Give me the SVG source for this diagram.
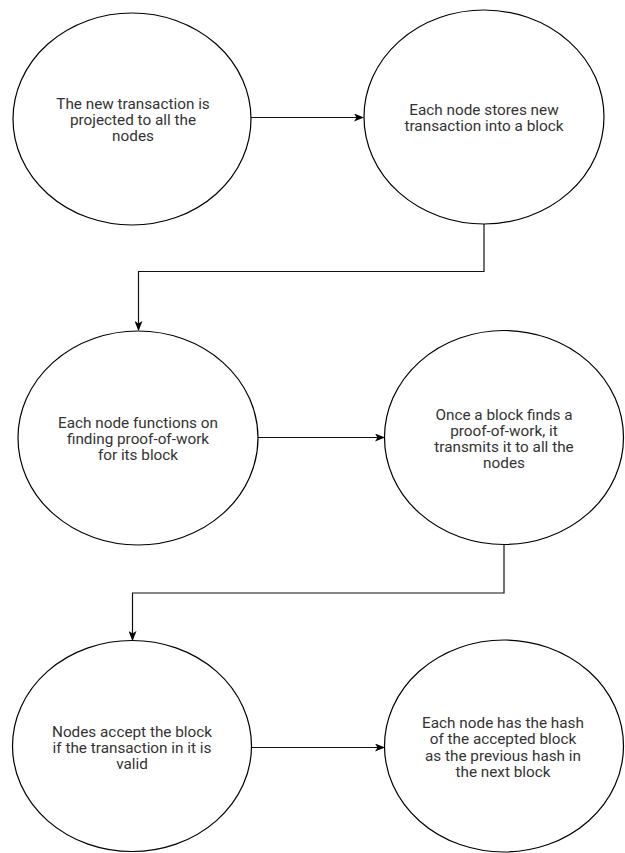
<svg xmlns="http://www.w3.org/2000/svg" width="625" height="853" viewBox="0 0 625 853">
<style>
.node ellipse{fill:#fff;stroke:#000;stroke-width:1.2}
.node text{font-family:Roboto,"Liberation Sans",sans-serif;font-size:15.3px;fill:#333;text-anchor:middle}
.conn path{fill:none;stroke:#111;stroke-width:1.2}
</style>
<defs>
<marker id="arr" viewBox="0 0 10 8" refX="9" refY="4" markerWidth="10" markerHeight="8" markerUnits="userSpaceOnUse" orient="auto">
<path d="M0,0 L10,4 L0,8 L2.5,4 z" fill="#000"/>
</marker>
</defs>
<rect width="625" height="853" fill="#fff"/>
<g id="connectors" class="conn">
<path d="M251,117.5 H363" marker-end="url(#arr)"/>
<path d="M484,224 V271.5 H138.5 V330" marker-end="url(#arr)"/>
<path d="M258,437.5 H384" marker-end="url(#arr)"/>
<path d="M504,544 V593 H132.5 V640" marker-end="url(#arr)"/>
<path d="M252,747.5 H384" marker-end="url(#arr)"/>
</g>
<g id="n1" class="node">
<ellipse cx="132" cy="119" rx="119" ry="106"/>
<text x="133" y="108.5">The new transaction is<tspan x="133" dy="16.3">projected to all the</tspan><tspan x="133" dy="16.3">nodes</tspan></text>
</g>
<g id="n2" class="node">
<ellipse cx="484" cy="117" rx="120" ry="107"/>
<text x="484" y="115">Each node stores new<tspan x="484" dy="16.3">transaction into a block</tspan></text>
</g>
<g id="n3" class="node">
<ellipse cx="138" cy="438" rx="120" ry="107"/>
<text x="138" y="427.5">Each node functions on<tspan x="138" dy="16.3">finding proof-of-work</tspan><tspan x="138" dy="16.3">for its block</tspan></text>
</g>
<g id="n4" class="node">
<ellipse cx="504" cy="437.5" rx="119.5" ry="107"/>
<text x="504" y="419.5">Once a block finds a<tspan x="504" dy="16.3">proof-of-work, it</tspan><tspan x="504" dy="16.3">transmits it to all the</tspan><tspan x="504" dy="16.3">nodes</tspan></text>
</g>
<g id="n5" class="node">
<ellipse cx="132" cy="746" rx="119.5" ry="105.5"/>
<text x="132" y="736.7">Nodes accept the block<tspan x="132" dy="16.3">if the transaction in it is</tspan><tspan x="132" dy="16.3">valid</tspan></text>
</g>
<g id="n6" class="node">
<ellipse cx="504" cy="746" rx="119.5" ry="106"/>
<text x="503" y="728">Each node has the hash<tspan x="503" dy="16.3">of the accepted block</tspan><tspan x="503" dy="16.3">as the previous hash in</tspan><tspan x="503" dy="16.3">the next block</tspan></text>
</g>
</svg>
